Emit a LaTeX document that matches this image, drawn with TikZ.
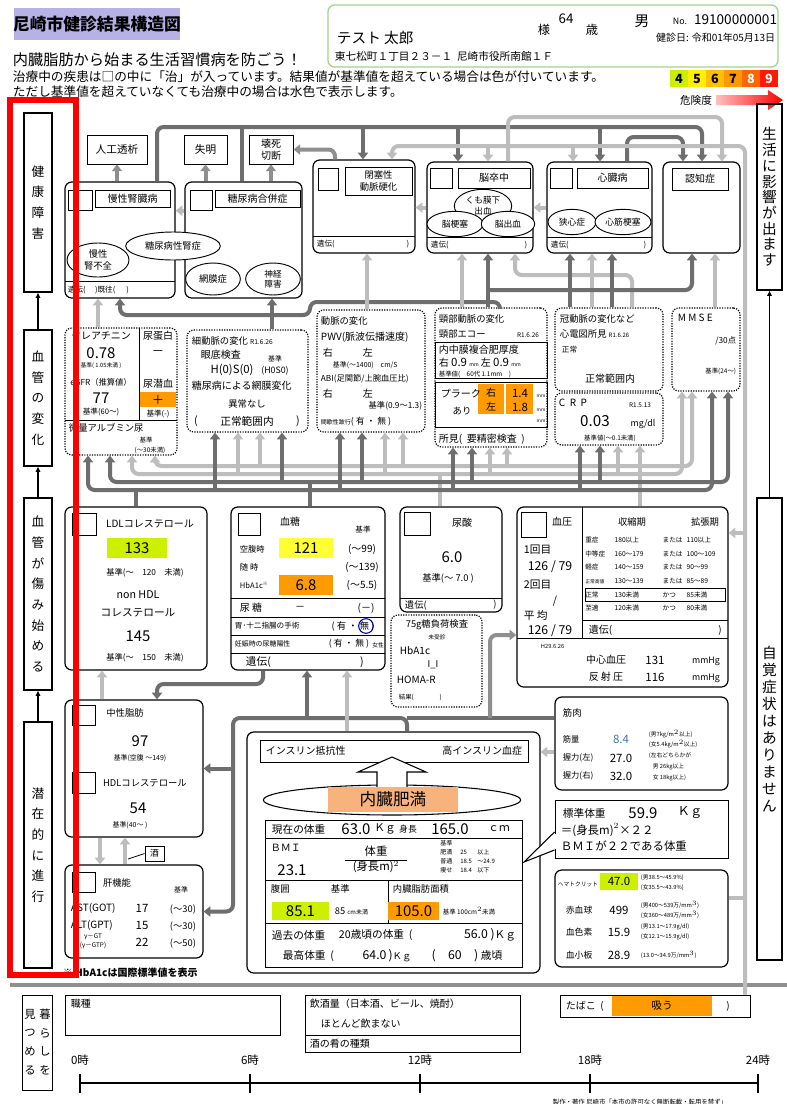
\documentclass[tikz,border=0pt]{standalone}
\usepackage{fontspec}
\setmainfont{Noto Sans CJK JP}
\usetikzlibrary{positioning, arrows.meta, shapes.geometric, fit}

\definecolor{lnDark}{HTML}{6E6E6E}
\definecolor{lnMid}{HTML}{8F8F8F}
\definecolor{lnLight}{HTML}{BDBDBD}
\definecolor{titleBg}{HTML}{B7B1E6}
\definecolor{infoGreen}{HTML}{A8D08D}
\definecolor{hiLime}{HTML}{CCF000}
\definecolor{hiYellow}{HTML}{FFFF33}
\definecolor{hiOrange}{HTML}{FF9B00}
\definecolor{fatOrange}{HTML}{F8B27C}
\definecolor{numBlue}{HTML}{3F74B0}
\definecolor{riskA}{HTML}{CCEE00}
\definecolor{riskB}{HTML}{FFF000}
\definecolor{riskC}{HTML}{FFC000}
\definecolor{riskD}{HTML}{FF9900}
\definecolor{riskE}{HTML}{FF6600}
\definecolor{riskF}{HTML}{FF1A00}
\newcommand{\fsz}[1]{\fontsize{#1}{#1}\selectfont}

\begin{document}
\begin{tikzpicture}[x=0.75pt, y=-0.75pt,
        every node/.style={inner sep=0.5pt, font=\fsz{7}},
        panel/.style={draw, rounded corners=5pt, line width=0.9pt, inner sep=0pt},
        dpanel/.style={draw, densely dotted, rounded corners=5pt, line width=0.9pt, inner sep=0pt},
        cell/.style={draw, line width=0.7pt, inner sep=0pt},
        hl/.style={fill=#1, inner sep=0pt},
        bubble/.style={draw, ellipse, fill=white, line width=0.7pt, inner sep=0pt, align=center},
        colbox/.style={draw, line width=0.8pt, inner sep=0pt},
        coltext/.style={align=center, font=\fontsize{9.5}{15.5}\selectfont},
        dk/.style={draw=lnDark, line width=3pt, rounded corners=5pt},
        md/.style={draw=lnMid, line width=3pt, rounded corners=5pt},
        lt/.style={draw=lnLight, line width=3pt, rounded corners=5pt},
        tipped/.style={-{Triangle[length=5pt, width=7.5pt]}},
        divider/.style={line width=0.7pt},
        s4/.style={font=\fsz{4.3}}, s45/.style={font=\fsz{4.8}},
        s5/.style={font=\fsz{5.2}}, s55/.style={font=\fsz{5.7}},
        s6/.style={font=\fsz{6.2}}, s65/.style={font=\fsz{6.6}},
        s7/.style={font=\fsz{7}}, s75/.style={font=\fsz{7.5}},
        s8/.style={font=\fsz{8}}, s85/.style={font=\fsz{8.6}},
        s9/.style={font=\fsz{9.2}}, s10/.style={font=\fsz{11.2}},
        s11/.style={font=\fsz{11.4}},
        rk/.style={font=\bfseries\fsz{9.5}},
    ]
    \path[use as bounding box, fill=white] (0,0) rectangle (787,1104);

    % header
    \node[hl=titleBg, fit={(14,8) (180,40)}] (title) {};
    \node[font=\bfseries\fsz{12.6}] (titleTxt) at (title) {尼崎市健診結果構造図};
    \node[anchor=west, s11] (sub) at (12,60) {内臓脂肪から始まる生活習慣病を防ごう！};
    \node[anchor=west, font=\fsz{9.5}] (note1) at (12,77) {治療中の疾患は□の中に「治」が入っています。結果値が基準値を超えている場合は色が付いています。};
    \node[anchor=west, font=\fsz{9.5}] (note2) at (12,92) {ただし基準値を超えていなくても治療中の場合は水色で表示します。};

    \node[draw=infoGreen, line width=1pt, rounded corners=5pt, fit={(328,5) (778,67)}, inner sep=0pt] (info) {};
    \node[anchor=west, font=\fsz{11}] (pname) at (336,38) {テスト\ 太郎};
    \node[s9] (sama) at (544,30) {様};
    \node[font=\fsz{10}] (age) at (566,19) {64};
    \node[s9] (sai) at (592,30) {歳};
    \node[font=\fsz{11}] (sex) at (642,21) {男};
    \node[anchor=west, s65] (noLbl) at (672,21) {No.};
    \node[anchor=east, font=\fsz{10.2}] (idNo) at (778,20) {19100000001};
    \node[anchor=east, s75] (kdate) at (776,38) {健診日: 令和01年05月13日};
    \node[anchor=west, s8] (addr) at (334,56) {東七松町１丁目２３－１\ \ 尼崎市役所南館１Ｆ};

    \node[hl=riskA, fit={(670,70) (688,87)}] (r4) {};
    \node[hl=riskB, fit={(688,70) (706,87)}] (r5) {};
    \node[hl=riskC, fit={(706,70) (724,87)}] (r6) {};
    \node[hl=riskD, fit={(724,70) (742,87)}] (r7) {};
    \node[hl=riskE, fit={(742,70) (760,87)}] (r8) {};
    \node[hl=riskF, fit={(760,70) (778,87)}] (r9) {};
    \node[rk] (r4t) at (r4) {4};
    \node[rk] (r5t) at (r5) {5};
    \node[rk] (r6t) at (r6) {6};
    \node[rk] (r7t) at (r7) {7};
    \node[rk, text=white] (r8t) at (r8) {8};
    \node[rk, text=white] (r9t) at (r9) {9};
    \node[s8] (riskLbl) at (696,100) {危険度};
    \shade[left color=red!25, right color=red] (716,95) -- (768,95) -- (768,90) -- (783,100)
        -- (768,110) -- (768,105) -- (716,105) -- cycle;

    % stage columns
    \node[colbox, fit={(24,113) (52,292)}] (lc1) {};
    \node[colbox, fit={(24,330) (52,466)}] (lc2) {};
    \node[colbox, fit={(24,498) (52,690)}] (lc3) {};
    \node[colbox, fit={(24,722) (52,968)}] (lc4) {};
    \node[coltext] (lc1t) at (lc1) {健\\康\\障\\害};
    \node[coltext] (lc2t) at (lc2) {血\\管\\の\\変\\化};
    \node[coltext] (lc3t) at (lc3) {血\\管\\が\\傷\\み\\始\\め\\る};
    \node[coltext] (lc4t) at (lc4) {潜\\在\\的\\に\\進\\行};
    \draw[-{Latex[length=4pt, width=4pt]}, line width=0.8pt] (lc4) -- (lc3);
    \draw[-{Latex[length=4pt, width=4pt]}, line width=0.8pt] (lc3) -- (lc2);
    \draw[-{Latex[length=4pt, width=4pt]}, line width=0.8pt] (lc2) -- (lc1);

    \node[colbox, fit={(757,104) (782,290)}] (rc1) {};
    \node[colbox, fit={(757,498) (782,960)}] (rc2) {};
    \node[align=center, font=\fontsize{11}{11.8}\selectfont] (rc1t) at (rc1) {生\\活\\に\\影\\響\\が\\出\\ま\\す};
    \node[align=center, font=\fontsize{11}{12.75}\selectfont] (rc2t) at (rc2) {自\\覚\\症\\状\\は\\あ\\り\\ま\\せ\\ん};
    \draw[-{Latex[length=4pt, width=4pt]}, line width=0.8pt] (rc2) -- (rc1);

    % health damage row
    \node[cell, fit={(87,135) (147,164)}] (dial) {};
    \node[cell, fit={(184,135) (227,164)}] (blind) {};
    \node[cell, fit={(249,135) (293,164)}] (necro) {};
    \node[s8] (dialTxt) at (dial) {人工透析};
    \node[s8] (blindTxt) at (blind) {失明};
    \node[font=\fontsize{7.5}{9}\selectfont, align=center] (necroTxt) at (necro) {壊死\\切断};

    \node[panel, fit={(65,182) (175,298)}] (ckd) {};
    \node[cell, fit={(68,190) (92,210)}] (ckdChk) {};
    \node[cell, fit={(95,190) (170,207)}] (ckdTtl) {};
    \node[s75] (ckdTxt) at (ckdTtl) {慢性腎臓病};
    \draw[divider] (65,281) -- (175,281);
    \node[anchor=west, s55] (ckdGen) at (67,290) {遺伝(\quad\ )既往(\quad\ \ )};
    \node[bubble, minimum width=46.5pt, minimum height=25.5pt, font=\fontsize{7}{8.5}\selectfont] (crfE) at (98,260) {慢性\\腎不全};

    \node[panel, fit={(185,182) (302,298)}] (dmc) {};
    \node[cell, fit={(190,190) (212,210)}] (dmcChk) {};
    \node[cell, fit={(215,190) (300,207)}] (dmcTtl) {};
    \node[s75] (dmcTxt) at (dmcTtl) {糖尿病合併症};
    \node[bubble, minimum width=71pt, minimum height=21pt, s7] (dnE) at (173,246) {糖尿病性腎症};
    \node[bubble, minimum width=41pt, minimum height=24pt, s7] (retE) at (213,279) {網膜症};
    \node[bubble, minimum width=41pt, minimum height=24pt, font=\fontsize{6.5}{7.5}\selectfont] (neuE) at (273,279) {神経\\障害};

    \node[panel, fit={(313,160) (415,253)}] (occl) {};
    \node[cell, fit={(318,168) (338,190)}] (occlChk) {};
    \node[cell, fit={(345,167) (412,195)}] (occlTtl) {};
    \node[font=\fontsize{7}{9}\selectfont, align=center] (occlTxt) at (occlTtl) {閉塞性\\動脈硬化};
    \draw[divider] (313,236) -- (415,236);
    \node[anchor=west, s55] (occlGen) at (316,244) {遺伝(};
    \node[anchor=east, s55] (occlGenR) at (410,244) {)};

    \node[panel, fit={(427,162) (533,253)}] (stroke) {};
    \node[cell, fit={(430,168) (452,188)}] (strokeChk) {};
    \node[cell, fit={(458,168) (530,188)}] (strokeTtl) {};
    \node[s75] (strokeTxt) at (strokeTtl) {脳卒中};
    \node[bubble, minimum width=43pt, minimum height=25pt, font=\fontsize{6.5}{8}\selectfont] (sahE) at (483,206) {くも膜下\\出血};
    \node[bubble, minimum width=42pt, minimum height=19pt, s65] (infE) at (455,224) {脳梗塞};
    \node[bubble, minimum width=40pt, minimum height=19pt, s65] (hemE) at (508,224) {脳出血};
    \draw[divider] (427,237) -- (533,237);
    \node[anchor=west, s55] (strokeGen) at (430,245) {遺伝(};
    \node[anchor=east, s55] (strokeGenR) at (528,245) {)};

    \node[panel, fit={(547,162) (652,253)}] (heart) {};
    \node[cell, fit={(550,168) (572,188)}] (heartChk) {};
    \node[cell, fit={(577,168) (648,188)}] (heartTtl) {};
    \node[s75] (heartTxt) at (heartTtl) {心臓病};
    \node[bubble, minimum width=36pt, minimum height=19pt, s65] (angE) at (572,222) {狭心症};
    \node[bubble, minimum width=42pt, minimum height=19pt, s65] (miE) at (623,222) {心筋梗塞};
    \draw[divider] (547,237) -- (652,237);
    \node[anchor=west, s55] (heartGen) at (550,245) {遺伝(};
    \node[anchor=east, s55] (heartGenR) at (647,245) {)};

    \node[panel, fit={(663,162) (740,253)}] (dem) {};
    \node[cell, fit={(672,168) (728,190)}] (demTtl) {};
    \node[s75] (demTxt) at (demTtl) {認知症};

    % vessel change row
    \node[dpanel, fit={(65,328) (177,455)}] (crea) {};
    \draw[divider] (139,328) -- (139,420);
    \draw[divider] (65,420) -- (177,420);
    \node[s75] (creaTtl) at (101,336) {クレアチニン};
    \node[s10] (creaVal) at (101,353) {0.78};
    \node[s4] (creaStd) at (101,366) {基準(\ 1.05未満\ )};
    \node[s6] (egfrTtl) at (101,382) {eGFR（推算値）};
    \node[s10] (egfrVal) at (101,398) {77};
    \node[s55] (egfrStd) at (101,412) {基準(60～)};
    \node[s75] (uproTtl) at (158,336) {尿蛋白};
    \node[s9] (uproVal) at (158,353) {－};
    \node[s75] (uobTtl) at (158,384) {尿潜血};
    \node[hl=hiOrange, fit={(140,392) (176,407)}] (uobVal) {};
    \node[s9] (uobTxt) at (uobVal) {＋};
    \node[s55] (uobStd) at (158,414) {基準(-)};
    \node[anchor=west, s7] (albTtl) at (68,428) {微量アルブミン尿};
    \node[s45] (albStd) at (146,440) {基準};
    \node[s45] (albStdV) at (150,450) {(～30未満)};

    \node[dpanel, fit={(187,330) (308,432)}] (ret) {};
    \node[anchor=west, s7] (retTtl) at (191,341) {細動脈の変化\ {\fsz{5}R1.6.26}};
    \node[anchor=west, s75] (fundus) at (200,355) {眼底検査};
    \node[s5] (fundStd) at (275,359) {基準};
    \node[font=\fsz{8.5}] (fundVal) at (232,370) {H(0)S(0)};
    \node[s65] (fundStdV) at (275,371) {(H0S0)};
    \node[anchor=west, s75] (dmRet) at (191,386) {糖尿病による網膜変化};
    \node[s7] (dmRetV) at (247,404) {異常なし};
    \node[s8] (retL) at (196,421) {(};
    \node[s8] (retRes) at (247,421) {正常範囲内};
    \node[s8] (retR) at (298,421) {)};

    \node[dpanel, fit={(317,310) (425,432)}] (art) {};
    \node[anchor=west, s7] (artTtl) at (320,321) {動脈の変化};
    \node[anchor=west, s75] (pwv) at (320,337) {PWV(脈波伝播速度)};
    \node[anchor=west, s75] (pwvR) at (322,353) {右};
    \node[anchor=west, s75] (pwvL) at (362,353) {左};
    \node[anchor=west, s5] (pwvStd) at (332,365) {基準(～1400)\quad cm/S};
    \node[anchor=west, s6] (abi) at (320,379) {ABI(足関節/上腕血圧比)};
    \node[anchor=west, s75] (abiR) at (322,394) {右};
    \node[anchor=west, s75] (abiL) at (362,394) {左};
    \node[anchor=east, s6] (abiStd) at (423,406) {基準(0.9～1.3)};
    \node[anchor=west, s65] (claud) at (320,422) {{\fsz{4.5}間歇性跛行}(\ 有\ ・\ 無\ )};

    \node[dpanel, fit={(435,308) (547,447)}] (car) {};
    \node[anchor=west, s7] (carTtl) at (438,319) {頸部動脈の変化};
    \node[anchor=west, s7] (carEcho) at (438,334) {頸部エコー};
    \node[s45] (carDate) at (528,335) {R1.6.26};
    \node[cell, fit={(435,342) (547,378)}] (imtBox) {};
    \node[anchor=west, s75] (imtTtl) at (438,350) {内中膜複合肥厚度};
    \node[anchor=west, s75] (imtVal) at (438,363) {右\ {\fsz{8.6}0.9}\ {\fsz{3.8}mm}\ 左\ {\fsz{8.6}0.9}\ {\fsz{3.8}mm}};
    \node[anchor=west, s45] (imtStd) at (438,374) {基準値(\quad 60代\ 1.1mm\quad )};
    \node[cell, fit={(435,382) (547,427)}] (plqBox) {};
    \node[hl=hiOrange, fit={(478,384) (533,414)}] (plqVal) {};
    \draw[white, line width=0.8pt] (505,384) -- (505,414);
    \node[anchor=west, s75] (plqTtl) at (440,394) {プラーク};
    \node[s7] (plqYes) at (462,411) {あり};
    \node[s75] (plqR) at (491,393) {右};
    \node[s75] (plqL) at (491,407) {左};
    \node[s85] (plqRv) at (520,393) {1.4};
    \node[s85] (plqLv) at (520,407) {1.8};
    \node[font=\fsz{3.5}] (plqU1) at (541,396) {mm};
    \node[font=\fsz{3.5}] (plqU2) at (541,410) {mm};
    \node[font=\fsz{3.5}] (plqU3) at (541,421) {mm};
    \node[anchor=west, s75] (carRes) at (438,439) {所見(\ \ 要精密検査\ \ )};

    \node[dpanel, fit={(555,308) (663,391)}] (cor) {};
    \node[anchor=west, s7] (corTtl) at (559,319) {冠動脈の変化など};
    \node[anchor=west, s7] (ecg) at (559,334) {心電図所見\ {\fsz{4.5}R1.6.26}};
    \node[anchor=west, s55] (ecgV) at (561,350) {正常};
    \node[s75] (corRes) at (610,379) {正常範囲内};

    \node[dpanel, fit={(555,393) (663,445)}] (crp) {};
    \node[anchor=west, s75] (crpTtl) at (558,403) {C\ \ R\ \ P};
    \node[s45] (crpDate) at (640,405) {R1.5.13};
    \node[s11] (crpVal) at (595,421) {0.03};
    \node[s65] (crpUnit) at (643,424) {mg/dl};
    \node[s45] (crpStd) at (610,438) {基準値(～0.1未満)};

    \node[dpanel, fit={(672,308) (740,391)}] (mmse) {};
    \node[anchor=west, s75] (mmseTtl) at (677,318) {M\ M\ S\ E};
    \node[anchor=east, s6] (mmseVal) at (737,341) {/30点};
    \node[anchor=east, s45] (mmseStd) at (737,371) {基準(24～)};

    % vessel damage row
    \node[panel, fit={(65,507) (207,670)}] (ldl) {};
    \node[cell, fit={(72,513) (96,535)}] (ldlChk) {};
    \node[s75] (ldlTtl) at (150,524) {LDLコレステロール};
    \node[hl=hiLime, fit={(107,538) (167,558)}] (ldlVal) {};
    \node[s10] (ldlTxt) at (ldlVal) {133};
    \node[s6] (ldlStd) at (145,573) {基準(～\quad 120\quad 未満)};
    \node[s8] (nhdlA) at (138,595) {non HDL};
    \node[s8] (nhdlB) at (138,613) {コレステロール};
    \node[s10] (nhdlVal) at (138,636) {145};
    \node[s6] (nhdlStd) at (145,658) {基準(～\quad 150\quad 未満)};

    \node[panel, fit={(231,507) (385,670)}] (glu) {};
    \node[cell, fit={(238,513) (260,535)}] (gluChk) {};
    \node[s75] (gluTtl) at (290,522) {血糖};
    \node[s55] (gluStd) at (363,530) {基準};
    \node[anchor=west, s6] (fbsTtl) at (239,549) {空腹時};
    \node[hl=hiYellow, fit={(279,538) (333,558)}] (fbsVal) {};
    \node[s10] (fbsTxt) at (fbsVal) {121};
    \node[s75] (fbsStd) at (362,549) {(～99)};
    \node[anchor=west, s6] (rbsTtl) at (239,567) {随\ 時};
    \node[s75] (rbsStd) at (362,567) {(～139)};
    \node[anchor=west, s55] (a1cTtl) at (239,585) {HbA1c{\fsz{3.5}\raisebox{2.5pt}{※}}};
    \node[hl=hiOrange, fit={(279,575) (333,595)}] (a1cVal) {};
    \node[s10] (a1cTxt) at (a1cVal) {6.8};
    \node[s75] (a1cStd) at (362,585) {(～5.5)};
    \draw[divider] (231,598) -- (385,598);
    \draw[divider] (231,617) -- (385,617);
    \draw[divider] (231,635) -- (385,635);
    \draw[divider] (231,653) -- (385,653);
    \node[anchor=west, s75] (usgTtl) at (239,608) {尿\ 糖};
    \node[s75] (usgVal) at (300,608) {－};
    \node[s75] (usgStd) at (366,608) {(－)};
    \node[anchor=west, s55] (gastTtl) at (234,626) {胃･十二指腸の手術};
    \node[s7] (gastVal) at (353,626) {(\ 有\ ・\ 無\ )};
    \node[draw=blue!75!black, circle, line width=0.8pt, minimum size=11pt, inner sep=0pt] (gastNo) at (366,626) {};
    \node[anchor=west, s5] (pregTtl) at (234,644) {妊娠時の尿糖陽性};
    \node[s65] (pregVal) at (349,644) {(\ 有\ ・\ 無\ )};
    \node[s4] (pregSex) at (378,645) {女性};
    \node[anchor=west, s8] (gluGen) at (245,662) {遺伝(};
    \node[s8] (gluGenR) at (362,662) {)};

    \node[panel, fit={(400,507) (502,612)}] (ua) {};
    \node[cell, fit={(404,512) (430,535)}] (uaChk) {};
    \node[s75] (uaTtl) at (462,523) {尿酸};
    \node[s10] (uaVal) at (452,557) {6.0};
    \node[s7] (uaStd) at (448,578) {基準(～\ 7.0\ )};
    \draw[divider] (400,598) -- (502,598);
    \node[anchor=west, s7] (uaGen) at (404,605) {遺伝(};
    \node[s7] (uaGenR) at (495,605) {)};

    \node[dpanel, fit={(391,615) (482,707)}] (ogtt) {};
    \node[s7] (ogttTtl) at (437,625) {75g糖負荷検査};
    \node[s4] (ogttNo) at (437,637) {未受診};
    \node[anchor=west, s75] (ogttA1c) at (399,651) {HbA1c};
    \node[s7] (ogttA1cV) at (433,665) {I\_I};
    \node[anchor=west, s75] (homa) at (396,680) {HOMA-R};
    \node[anchor=west, s45] (ogttRes) at (398,697) {結果(\qquad\qquad )};

    \node[panel, fit={(517,507) (728,687)}] (bp) {};
    \draw[divider] (582,507) -- (582,638);
    \draw[divider] (517,638) -- (728,638);
    \draw[divider] (582,620) -- (728,620);
    \node[cell, fit={(521,512) (546,537)}] (bpChk) {};
    \node[s75] (bpTtl) at (562,522) {血圧};
    \node[anchor=west, s8] (bp1Ttl) at (523,550) {1回目};
    \node[s9] (bp1Val) at (550,567) {126\ /\ 79};
    \node[anchor=west, s8] (bp2Ttl) at (523,585) {2回目};
    \node[s8] (bp2Val) at (555,601) {/};
    \node[anchor=west, s8] (bpAvTtl) at (523,615) {平\ 均};
    \node[s9] (bpAvVal) at (550,631) {126\ /\ 79};
    \node[s7] (sysTtl) at (632,522) {収縮期};
    \node[s7] (diaTtl) at (705,522) {拡張期};
    \node[anchor=north west, font=\fontsize{5}{10.2}\selectfont, inner sep=0pt] (bpTbl) at (585,533) {%
        \begin{tabular}{@{}p{22pt}@{}p{36pt}@{}p{18pt}@{}l@{}}
        重症 & 180以上 & または & 110以上\\
        中等症 & 160～179 & または & 100～109\\
        軽症 & 140～159 & または & 90～99\\
        {\fsz{3.6}正常高値} & 130～139 & または & 85～89\\
        正常 & 130未満 & かつ & 85未満\\
        至適 & 120未満 & かつ & 80未満
        \end{tabular}};
    \node[cell, fit={(585,588) (725,601)}] (bpNorm) {};
    \node[anchor=west, s75] (bpGen) at (588,630) {遺伝(};
    \node[s75] (bpGenR) at (720,630) {)};
    \node[anchor=west, s4] (cbpDate) at (540,646) {H29.6.26};
    \node[s75] (cbpTtl) at (606,660) {中心血圧};
    \node[s85] (cbpVal) at (655,660) {131};
    \node[s65] (cbpUnit) at (706,661) {mmHg};
    \node[s75] (rpTtl) at (606,677) {反\ 射\ 圧};
    \node[s85] (rpVal) at (655,677) {116};
    \node[s65] (rpUnit) at (706,678) {mmHg};

    % latent row
    \node[panel, fit={(65,700) (203,837)}] (tg) {};
    \node[cell, fit={(72,705) (95,725)}] (tgChk) {};
    \node[s7] (tgTtl) at (125,713) {中性脂肪};
    \node[s10] (tgVal) at (140,741) {97};
    \node[s5] (tgStd) at (140,758) {基準(空腹\ ～149)};
    \node[cell, fit={(72,772) (95,793)}] (hdlChk) {};
    \node[s7] (hdlTtl) at (145,783) {HDLコレステロール};
    \node[s10] (hdlVal) at (138,808) {54};
    \node[s5] (hdlStd) at (130,825) {基準(40～\ )};

    \node[panel, fit={(65,865) (203,958)}] (liv) {};
    \node[cell, fit={(72,872) (95,892)}] (livChk) {};
    \node[s7] (livTtl) at (117,883) {肝機能};
    \node[s5] (livStd) at (181,890) {基準};
    \node[anchor=west, s75] (ast) at (70,908) {AST(GOT)};
    \node[s85] (astVal) at (142,908) {17};
    \node[s7] (astStd) at (183,910) {(～30)};
    \node[anchor=west, s75] (alt) at (70,925) {ALT(GPT)};
    \node[s85] (altVal) at (142,925) {15};
    \node[s7] (altStd) at (183,927) {(～30)};
    \node[s45] (ggtA) at (93,937) {γ－GT};
    \node[s45] (ggtB) at (93,946) {(γ－GTP)};
    \node[s85] (ggtVal) at (142,942) {22};
    \node[s7] (ggtStd) at (183,944) {(～50)};
    \node[cell, fit={(145,846) (164,861)}] (sake) {};
    \node[s65] (sakeTxt) at (sake) {酒};
    \coordinate (sakeTip) at (128,859);
    \draw[line width=0.6pt] (sake.west) -- (sakeTip);
    \node[anchor=west, font=\bfseries\fsz{7.5}] (a1cNote) at (62,973) {※\ HbA1cは国際標準値を表示};

    % visceral fat panel
    \node[panel, fit={(247,732) (540,973)}] (vo) {};
    \node[cell, fit={(260,740) (528,762)}] (irBox) {};
    \node[anchor=west, s75] (irA) at (265,751) {インスリン抵抗性};
    \node[anchor=east, s75] (irB) at (523,751) {高インスリン血症};
    \node[draw, ellipse, line width=0.8pt, minimum width=193pt, minimum height=22.5pt] (vfE) at (392,800) {};
    \draw[line width=0.8pt, fill=white] (377,792) -- (377,772) -- (358,772) -- (392,757) -- (426,772) -- (407,772) -- (407,792);
    \node[hl=fatOrange, fit={(328,787) (458,812)}] (vfat) {};
    \node[font=\fsz{12.5}] (vfatTxt) at (vfat) {内臓肥満};

    \node[cell, fit={(265,820) (522,967)}] (bodyTbl) {};
    \draw[divider] (265,838) -- (522,838);
    \draw[divider] (265,880) -- (522,880);
    \draw[divider] (265,923) -- (522,923);
    \draw[divider] (388,880) -- (388,923);
    \node[anchor=west, s8] (wtTtl) at (271,829) {現在の体重};
    \node[s10] (wtVal) at (356,829) {63.0};
    \node[s8] (wtUnit) at (385,829) {Ｋｇ};
    \node[s65] (htTtl) at (408,829) {身長};
    \node[s10] (htVal) at (450,829) {165.0};
    \node[s8] (htUnit) at (499,829) {ｃｍ};
    \node[anchor=west, s75] (bmiTtl) at (270,848) {ＢＭＩ};
    \node[s10] (bmiVal) at (292,870) {23.1};
    \node[font=\fontsize{8.5}{11}\selectfont, inner sep=0pt] (bmiFrac) at (376,860)
        {\begin{tabular}{@{\hspace{6pt}}c@{\hspace{6pt}}}体重\\\hline(身長m)$^2$\end{tabular}};
    \node[anchor=north west, font=\fontsize{4.5}{6.8}\selectfont, inner sep=0pt] (bmiStd) at (440,839)
        {\begin{tabular}{@{}l@{\hspace{6pt}}l@{\hspace{4pt}}l@{}}基準&&\\肥満&25&以上\\普通&18.5&～24.9\\痩せ&18.4&以下\end{tabular}};
    \node[anchor=west, s7] (waistTtl) at (270,889) {腹囲};
    \node[anchor=west, s7] (waistStd) at (330,889) {基準};
    \node[hl=hiLime, fit={(272,902) (329,920)}] (waistVal) {};
    \node[s10] (waistTxt) at (waistVal) {85.1};
    \node[anchor=west, s7] (waistStdV) at (334,911) {85\ {\fsz{4.5}cm未満}};
    \node[anchor=west, s7] (vfaTtl) at (392,889) {内臓脂肪面積};
    \node[hl=hiOrange, fit={(388,902) (439,920)}] (vfaVal) {};
    \node[s10] (vfaTxt) at (vfaVal) {105.0};
    \node[anchor=west, s45] (vfaStd) at (442,911) {基準\ 100cm$^2$未満};
    \node[anchor=west, s8] (pastTtl) at (271,935) {過去の体重};
    \node[anchor=west, s8] (age20) at (338,935) {20歳頃の体重\ \ (};
    \node[anchor=east, s9] (age20V) at (517,935) {56.0\ ){\fsz{8}Ｋｇ}};
    \node[anchor=west, s8] (maxTtl) at (282,956) {最高体重\ \ (};
    \node[s9] (maxVal) at (387,956) {64.0\,){\fsz{7}Ｋｇ}};
    \node[s9] (maxAge) at (467,956) {(\quad 60\quad )\ {\fsz{8}歳頃}};

    % right lower panels
    \node[panel, fit={(555,697) (728,790)}] (mus) {};
    \node[anchor=west, s7] (musTtl) at (562,713) {筋肉};
    \node[anchor=west, s6] (musMass) at (562,739) {筋量};
    \node[s85, text=numBlue] (musMassV) at (621,739) {8.4};
    \node[anchor=west, s4] (musStdA) at (648,734) {(男7kg/m$^2$以上)};
    \node[anchor=west, s4] (musStdB) at (648,744) {(女5.4kg/m$^2$以上)};
    \node[anchor=west, s6] (gripL) at (562,758) {握力(左)};
    \node[s85] (gripLV) at (621,758) {27.0};
    \node[anchor=west, s4] (gripStdA) at (648,756) {(左右どちらかが};
    \node[anchor=west, s6] (gripR) at (562,776) {握力(右)};
    \node[s85] (gripRV) at (621,776) {32.0};
    \node[anchor=west, s4] (gripStdB) at (652,767) {男\ 26kg以上};
    \node[anchor=west, s4] (gripStdC) at (652,778) {女\ 18kg以上)};

    \node[cell, fit={(555,800) (728,858)}] (std) {};
    \coordinate (stdTip) at (524,862);
    \draw[line width=0.8pt, fill=white] (std.west |- 0,832) -- (stdTip) -- (std.west |- 0,850);
    \draw[white, line width=1.5pt] (555,833.5) -- (555,848.5);
    \node[anchor=west, s8] (stdTtl) at (562,813) {標準体重};
    \node[s10] (stdVal) at (643,813) {59.9};
    \node[s9] (stdUnit) at (690,813) {Ｋｇ};
    \node[anchor=west, s85] (stdEq) at (560,830) {＝(身長m)$^2$×２２};
    \node[anchor=west, s85] (stdNote) at (560,846) {ＢＭＩが２２である体重};

    \node[panel, fit={(555,870) (728,967)}] (blood) {};
    \node[anchor=west, s4] (hctTtl) at (557,884) {ヘマトクリット};
    \node[hl=hiLime, fit={(600,873) (638,890)}] (hctVal) {};
    \node[s85] (hctTxt) at (hctVal) {47.0};
    \node[anchor=west, s4] (hctStdA) at (640,878) {(男38.5～45.9\%)};
    \node[anchor=west, s4] (hctStdB) at (640,888) {(女35.5～43.9\%)};
    \node[anchor=west, s65] (rbcTtl) at (565,910) {赤血球};
    \node[s85] (rbcVal) at (619,910) {499};
    \node[anchor=west, s4] (rbcStdA) at (640,905) {(男400～539万/mm$^3$)};
    \node[anchor=west, s4] (rbcStdB) at (640,915) {(女360～489万/mm$^3$)};
    \node[anchor=west, s65] (hbTtl) at (565,932) {血色素};
    \node[s85] (hbVal) at (619,932) {15.9};
    \node[anchor=west, s4] (hbStdA) at (640,927) {(男13.1～17.9g/dl)};
    \node[anchor=west, s4] (hbStdB) at (640,937) {(女12.1～15.9g/dl)};
    \node[anchor=west, s65] (pltTtl) at (565,955) {血小板};
    \node[s85] (pltVal) at (619,955) {28.9};
    \node[anchor=west, s4] (pltStd) at (640,955) {(13.0～34.9万/mm$^3$)};

    % lifestyle strip
    \draw[md] (10,985) -- (787,985);
    \node[cell, fit={(22,995) (52,1090)}] (kurashi) {};
    \node[font=\fontsize{8.5}{14}\selectfont, align=center] (kurA) at (45,1042) {暮\\ら\\し\\を};
    \node[font=\fontsize{8.5}{14}\selectfont, align=center] (kurB) at (30,1042) {見\\つ\\め\\る};
    \node[cell, fit={(65,995) (280,1035)}] (job) {};
    \node[anchor=west, s75] (jobTtl) at (70,1004) {職種};
    \node[cell, fit={(305,995) (520,1035)}] (drink) {};
    \node[anchor=west, s75] (drinkTtl) at (309,1004) {飲酒量（日本酒、ビール、焼酎）};
    \node[anchor=west, s75] (drinkVal) at (320,1024) {ほとんど飲まない};
    \node[cell, fit={(305,1035) (520,1052)}] (snack) {};
    \node[anchor=west, s75] (snackTtl) at (309,1044) {酒の肴の種類};
    \node[cell, fit={(560,995) (750,1017)}] (smoke) {};
    \node[hl=hiOrange, fit={(612,996) (712,1016)}] (smokeVal) {};
    \node[s8] (smokeTxt) at (smokeVal) {吸う};
    \node[anchor=west, s75] (smokeTtl) at (565,1006) {たばこ\ \ (};
    \node[s75] (smokeR) at (728,1006) {)};

    \node[s85] (h0) at (80,1060) {0時};
    \node[s85] (h6) at (250,1060) {6時};
    \node[s85] (h12) at (420,1060) {12時};
    \node[s85] (h18) at (590,1060) {18時};
    \node[s85] (h24) at (758,1060) {24時};
    \draw[line width=0.9pt] (80,1083) -- (758,1083);
    \draw[line width=0.9pt] (80,1074) -- (80,1093);
    \draw[line width=0.9pt] (250,1074) -- (250,1093);
    \draw[line width=0.9pt] (420,1074) -- (420,1093);
    \draw[line width=0.9pt] (590,1074) -- (590,1093);
    \draw[line width=0.9pt] (758,1074) -- (758,1093);
    \node[s45] (credit) at (640,1102) {製作・著作\ 尼崎市「本市の許可なく無断転載・転用を禁ず」};

    % connectors, health damage row
    \draw[md, tipped] (ckd.north -| dial.south) -- (dial.south);
    \draw[md, tipped] (dmc.north -| blind.south) -- (blind.south);
    \draw[md, tipped] (dmc.north -| necro.south) -- (necro.south);
    \draw[md, tipped] (occl.north -| 335,0) |- (necro.east);
    \draw[lt, tipped] ([yshift=22pt]dmc.west) -- ([yshift=22pt]ckd.east);
    \draw[lt, tipped] (heart.west) -- (stroke.east);
    \draw[lt, tipped] (stroke.west) -- (stroke.west -| occl.east);

    \draw[dk, tipped] (ckd.north -| 157,0) |- (702,127) -- (dem.north -| 702,0);
    \draw[dk] (dmc.north -| 242,0) -- (242,127);
    \draw[dk, tipped] (363,127) -- (occl.north -| 363,0);
    \draw[dk, tipped] (458,127) -- (stroke.north -| 458,0);
    \draw[dk, tipped] (600,127) -- (heart.north -| 600,0);
    \draw[lt, tipped] (stroke.north -| 508,0) |- (722,117) -- (dem.north -| 722,0);
    \draw[dk, tipped] (heart.north -| 627,0) |- (683,137) -- (dem.north -| 683,0);
    \draw[lt, tipped] (smoke.north -| 745,0) |- (392,146) -- (occl.north -| 392,0);
    \draw[lt, tipped] (488,146) -- (stroke.north -| 488,0);
    \draw[lt, tipped] (573,146) -- (heart.north -| 573,0);

    % connectors, vessel change to damage
    \draw[lt, tipped] (crea.north -| 98,0) -- (ckd.south -| 98,0);
    \draw[dk, tipped] (car.north -| 500,0) |- (310,302) |- (120,315) -- (ckd.south -| 120,0);
    \draw[dk, tipped] (ret.north -| 272,0) -- (dmc.south -| 272,0);
    \draw[lt, tipped] (art.north -| 367,0) -- (occl.south -| 367,0);
    \draw[lt, tipped] (car.north -| 462,0) -- (stroke.south -| 462,0);
    \draw[dk, tipped] (car.north -| 488,0) -- (stroke.south -| 488,0);
    \draw[lt, tipped] (cor.north -| 632,0) |- (515,275) -- (stroke.south -| 515,0);
    \draw[dk, tipped] (cor.north -| 570,0) -- (heart.south -| 570,0);
    \draw[lt, tipped] (cor.north -| 592,0) -- (heart.south -| 592,0);
    \draw[dk, tipped] (cor.north -| 612,0) -- (heart.south -| 612,0);
    \draw[dk, tipped] (488,290) -| (dem.south -| 692,0);
    \draw[lt, tipped] (mmse.north -| 715,0) -- (dem.south -| 715,0);

    % connectors, vessel damage to vessel change
    \draw[lt] (bp.north -| 640,0) -- (640,466);
    \draw[lt, tipped] (640,466) -| (crea.south -| 155,0);
    \draw[lt, tipped] (640,466) -| (mmse.south -| 692,0);
    \draw[lt, tipped] (260,466) -- (ret.south -| 260,0);
    \draw[lt, tipped] (403,466) -- (art.south -| 403,0);
    \draw[lt, tipped] (507,466) -- (car.south -| 507,0);
    \draw[lt, tipped] (640,466) -- (crp.south -| 640,0);

    \draw[lt] (ua.north -| 440,0) -- (440,474);
    \draw[lt, tipped] (440,474) -| (crea.south -| 132,0);
    \draw[lt, tipped] (440,474) -| (mmse.south -| 682,0);
    \draw[lt, tipped] (238,474) -- (ret.south -| 238,0);
    \draw[lt, tipped] (385,474) -- (art.south -| 385,0);
    \draw[lt, tipped] (490,474) -- (car.south -| 490,0);
    \draw[lt, tipped] (618,474) -- (crp.south -| 618,0);

    \draw[dk] (glu.north -| 310,0) -- (310,482);
    \draw[dk, tipped] (310,482) -| (crea.south -| 110,0);
    \draw[dk, tipped] (310,482) -| (mmse.south -| 728,0);
    \draw[dk, tipped] (282,482) -- (ret.south -| 282,0);
    \draw[dk, tipped] (362,482) -- (art.south -| 362,0);
    \draw[dk, tipped] (472,482) -- (car.south -| 472,0);
    \draw[dk, tipped] (600,482) -- (crp.south -| 600,0);

    \draw[dk] (ldl.north -| 136,0) -- (136,490);
    \draw[dk, tipped] (136,490) -| (crea.south -| 88,0);
    \draw[dk, tipped] (136,490) -| (mmse.south -| 712,0);
    \draw[dk, tipped] (215,490) -- (ret.south -| 215,0);
    \draw[dk, tipped] (340,490) -- (art.south -| 340,0);
    \draw[dk, tipped] (453,490) -- (car.south -| 453,0);
    \draw[dk, tipped] (580,490) -- (crp.south -| 580,0);

    % connectors, latent row
    \draw[dk, tipped] (glu.south -| 263,0) |- (157,684) -- (tg.north -| 157,0);
    \draw[lt, tipped] (tg.north -| 102,0) -- (ldl.south -| 102,0);
    \draw[dk, tipped] (vo.north -| 407,0) |- (233,718) |- (liv.east);
    \draw[dk, tipped] (tg.east -| 233,0) -- (tg.east);
    \draw[dk, tipped] (307,718) -- (glu.south -| 307,0);
    \draw[dk] (mus.west |- 0,718) -- (407,718);
    \draw[lt, tipped] (vo.north -| 347,0) -- (glu.south -| 347,0);
    \draw[md, tipped] (490,718) |- ([yshift=-28.5pt]bp.west);
    \draw[lt, tipped] (745,533) -- (bp.east |- 0,533);
    \draw[lt] (blood.east |- 0,898) -- (745,898);
    \draw[lt, tipped] (mus.west |- 0,752) -- (vo.east |- 0,752);
    \draw[lt, tipped] ([xshift=-25.5pt]tg.south) -- ([xshift=-25.5pt]liv.north);
    \draw[lt, tipped] ([xshift=-6.75pt]liv.north) -- ([xshift=-6.75pt]tg.south);

    \node[draw=red, line width=4.5pt, fit={(10,100) (76,975)}, inner sep=0pt] (redFrame) {};
\end{tikzpicture}
\end{document}
